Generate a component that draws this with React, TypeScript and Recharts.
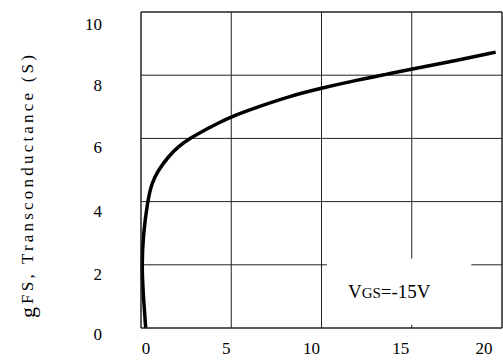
import React from 'react';
import { LineChart, Line, XAxis, YAxis, CartesianGrid, ReferenceArea, ReferenceLine } from 'recharts';

// VDS (V) vs gFS (S)
const vds = [0.26, 0.13, 0.04, 0.13, 0.37, 0.59, 0.96, 1.51, 2.06, 2.71, 3.54, 4.27, 5, 6.48, 8.32, 10, 12, 13.6, 15, 17.5, 19.65];
const gfs = [0, 1, 2, 3, 4.03, 4.58, 5.0, 5.42, 5.74, 6.0, 6.27, 6.48, 6.69, 7.0, 7.35, 7.59, 7.85, 8.03, 8.19, 8.47, 8.73];

const xTicks = [0, 5, 10, 15, 20];
const yTicks = [0, 2, 4, 6, 8, 10];

// small label nudges so the tick text sits where the original had it
const xLabelShift: Record<number, number> = { 0: 5, 5: -5, 10: -10, 15: -11, 20: -11 };
const yLabelShift: Record<number, number> = { 0: 6, 2: 9, 4: 9, 6: 9, 8: 10, 10: 12 };

const data = vds.map((v, i) => ({ vds: v, gfs: gfs[i] }));

const font = '"Liberation Serif", "DejaVu Serif", serif';

const XTick = (props: any) => {
  const { x, y, payload } = props;
  return (
    <text x={x + (xLabelShift[payload.value] ?? 0)} y={y + 18} textAnchor="middle" fontFamily={font} fontSize={17} fill="#000">
      {payload.value}
    </text>
  );
};

const YTick = (props: any) => {
  const { y, payload } = props;
  return (
    <text x={102} y={y + (yLabelShift[payload.value] ?? 0) + 6} textAnchor="end" fontFamily={font} fontSize={17} fill="#000">
      {payload.value}
    </text>
  );
};

const VgsLabel = (props: any) => {
  const { viewBox } = props;
  return (
    <text x={viewBox.x + 21} y={viewBox.y + 40} fontFamily={font} fontSize={19} fill="#000">
      V<tspan fontSize={15}>GS</tspan>=-15V
    </text>
  );
};

const YTitle = () => (
  <text
    x={27}
    y={185}
    transform="rotate(-90 27 185)"
    textAnchor="middle"
    dominantBaseline="central"
    fontFamily={font}
    fontSize={17}
    letterSpacing={3.2}
    fill="#000"
  >
    <tspan fontSize={22}>g</tspan>FS, Transconductance (S)
  </text>
);

export default function App() {
  return (
    <div style={{ position: 'absolute', left: 0, top: 0, width: 503, height: 363, background: '#fff', fontFamily: font }}>
      <LineChart width={503} height={363} data={data} margin={{ top: 12, right: 1, left: 0, bottom: 0 }}>
        <CartesianGrid stroke="#222" strokeWidth={1} />
        <XAxis
          type="number"
          dataKey="vds"
          domain={[0, 20]}
          ticks={xTicks}
          height={35}
          tickLine={false}
          axisLine={{ stroke: '#222' }}
          tick={<XTick />}
        />
        <YAxis
          type="number"
          dataKey="gfs"
          domain={[0, 10]}
          ticks={yTicks}
          width={141}
          tickLine={false}
          axisLine={{ stroke: '#222' }}
          tick={<YTick />}
          label={{ content: () => <YTitle /> }}
        />
        <ReferenceLine y={10} stroke="#222" />
        <ReferenceLine x={20} stroke="#222" />
        <ReferenceArea x1={10.3} x2={18.3} y1={0.1} y2={2.2} fill="#fff" fillOpacity={1} stroke="none" label={<VgsLabel />} />
        <Line
          type="basis"
          dataKey="gfs"
          stroke="#000"
          strokeWidth={3.5}
          dot={false}
          isAnimationActive={false}
        />
      </LineChart>
    </div>
  );
}
